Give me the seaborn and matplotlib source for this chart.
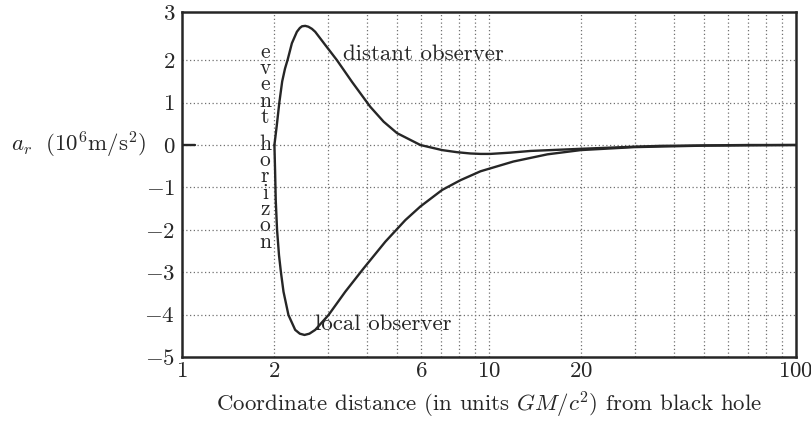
import matplotlib
matplotlib.use("Agg")
import matplotlib.pyplot as plt
import seaborn as sns
import pandas as pd
import numpy as np

# ---- data ----
r_distant = [2.000, 2.035, 2.075, 2.12, 2.165, 2.212, 2.280, 2.367, 2.42, 2.46, 2.52, 2.58, 2.65,
             2.716, 2.928, 3.197, 3.578, 3.955, 4.106, 4.537, 5.017, 5.977, 7.037, 7.875,
             8.703, 9.382, 10.11, 11.75, 13.66, 19.89, 29.68, 36.27, 50.0, 70.0, 100.0]
a_distant = [0.00, 0.45, 1.00, 1.50, 1.80, 2.03, 2.40, 2.67, 2.76, 2.80, 2.81, 2.79, 2.74,
             2.67, 2.36, 2.00, 1.49, 1.06, 0.90, 0.55, 0.28, 0.00, -0.12, -0.17,
             -0.20, -0.21, -0.21, -0.18, -0.14, -0.09, -0.04, -0.02, -0.01, 0.0, 0.0]

r_local = [2.000, 2.010, 2.020, 2.040, 2.070, 2.100, 2.141, 2.222, 2.337, 2.42, 2.506, 2.60,
           2.716, 3.001, 3.403, 3.904, 4.596, 5.341, 5.977, 7.037, 8.072, 9.382, 10.11,
           12.0, 15.5, 19.9, 29.7, 50.0, 100.0]
a_local = [0.00, -0.60, -1.30, -2.00, -2.60, -3.00, -3.46, -4.01, -4.36, -4.45, -4.48, -4.45,
           -4.36, -4.01, -3.46, -2.91, -2.28, -1.77, -1.45, -1.06, -0.83, -0.62, -0.55,
           -0.39, -0.22, -0.12, -0.05, -0.015, 0.0]

r_stub = [1.0, 1.1]
a_stub = [0.0, 0.0]

x_tick_vals = [1, 2, 6, 10, 20, 100]
x_tick_labels = ["1", "2", "6", "10", "20", "100"]
x_grid_vals = [2, 3, 4, 5, 6, 7, 8, 9, 10, 20, 30, 40, 50, 60, 70, 80, 90]
y_tick_vals = [-5, -4, -3, -2, -1, 0, 1, 2]
y_top = 3.137
y_tick_labels = [r"$-5$", r"$-4$", r"$-3$", r"$-2$", r"$-1$", r"$0$", r"$1$", r"$2$", r"$3$"]

word1 = "event"
word2 = "horizon"

# ---- styling ----
sns.set_theme(style="white")
plt.rcParams["mathtext.fontset"] = "cm"
plt.rcParams["font.family"] = ["cmr10", "DejaVu Serif"]
plt.rcParams["axes.unicode_minus"] = False

INK = "#262626"
FS = 16.5

fig = plt.figure(figsize=(8.12, 4.24), dpi=100)
ax = fig.add_axes([182 / 812, 1 - 357 / 424, (796 - 182) / 812, (357 - 12) / 424])

df_d = pd.DataFrame({"r": r_distant, "a": a_distant})
df_l = pd.DataFrame({"r": r_local, "a": a_local})
df_s = pd.DataFrame({"r": r_stub, "a": a_stub})
for d in (df_d, df_l, df_s):
    sns.lineplot(data=d, x="r", y="a", ax=ax, color=INK, linewidth=1.7,
                 estimator=None, sort=False, zorder=3)

ax.set_xscale("log")
ax.set_xlim(1, 100)
ax.set_ylim(-5, y_top)

# grid
for xv in x_grid_vals:
    ax.axvline(xv, color="#707070", linewidth=0.9, linestyle=(0, (1, 2.0)), zorder=1)
for yv in y_tick_vals[1:]:
    ax.axhline(yv, color="#707070", linewidth=0.9, linestyle=(0, (1, 2.0)), zorder=1)

ax.set_xticks(x_tick_vals)
ax.set_xticklabels([f"${t}$" for t in x_tick_labels])
ax.xaxis.set_minor_locator(matplotlib.ticker.NullLocator())
ax.set_yticks(y_tick_vals + [y_top])
ax.set_yticklabels(y_tick_labels)
ax.tick_params(axis="both", length=0, labelsize=FS, colors=INK)
ax.tick_params(axis="y", pad=5)
ax.tick_params(axis="x", pad=3)
ax.set_xlabel("")
ax.set_ylabel("")

for s in ax.spines.values():
    s.set_visible(True)
    s.set_color(INK)
    s.set_linewidth(1.8)

# annotations
ax.text(3.35, 2.19, "distant observer", fontsize=FS, color=INK, ha="left", va="center_baseline")
ax.text(2.716, -4.17, "local observer", fontsize=FS, color=INK, ha="left", va="center_baseline")

LFS = 15.5
step = 16.3 / 42.4
for i, ch in enumerate(word1):
    ax.text(1.865, 2.24 - i * step, ch, fontsize=LFS, color=INK, ha="center", va="center_baseline")
for i, ch in enumerate(word2):
    ax.text(1.865, (145 - 142) / 42.4 - i * step, ch, fontsize=LFS, color=INK,
            ha="center", va="center_baseline")

fig.text(11 / 812, 1 - 145 / 424, r"$a_r\ \ (10^6\mathrm{m/s}^2)$", fontsize=FS, color=INK,
         ha="left", va="center")
fig.text(489 / 812, 1 - 405 / 424, r"Coordinate distance (in units $GM/c^2$) from black hole",
         fontsize=FS, color=INK, ha="center", va="center")

fig.savefig("out.png", dpi=100)
